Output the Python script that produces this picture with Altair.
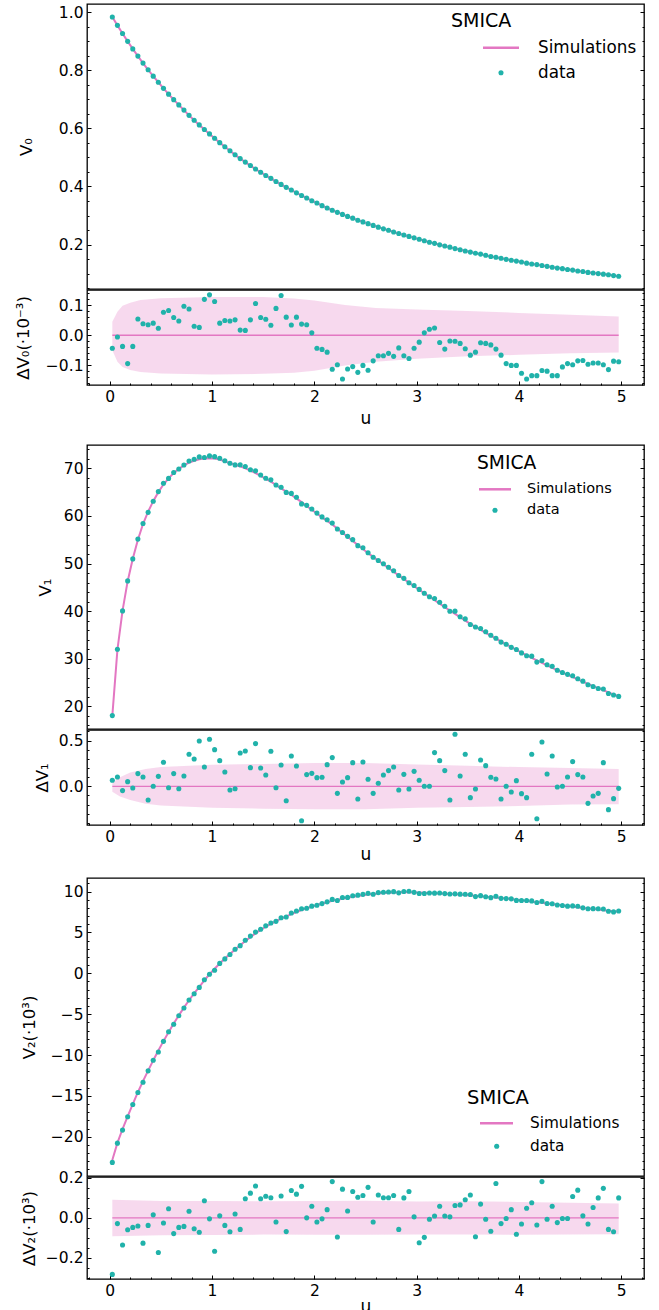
import altair as alt
import pandas as pd

FONT = "DejaVu Sans"
PINK = "#e377c2"
TEAL = "#20b2aa"

# ---------------- data ----------------
U = [round(0.025 + 0.05 * k, 3) for k in range(100)]

V0_SIM = [0.984, 0.955, 0.927, 0.900, 0.874, 0.849, 0.825, 0.802, 0.780, 0.759,
          0.738, 0.718, 0.699, 0.681, 0.663, 0.645, 0.628, 0.612, 0.596, 0.581,
          0.566, 0.551, 0.537, 0.523, 0.509, 0.496, 0.484, 0.472, 0.460, 0.449,
          0.438, 0.428, 0.417, 0.407, 0.397, 0.388, 0.378, 0.369, 0.360, 0.351,
          0.343, 0.334, 0.326, 0.318, 0.311, 0.304, 0.297, 0.291, 0.284, 0.278,
          0.272, 0.266, 0.260, 0.254, 0.249, 0.243, 0.238, 0.233, 0.228, 0.223,
          0.218, 0.213, 0.208, 0.204, 0.199, 0.195, 0.191, 0.186, 0.182, 0.178,
          0.174, 0.170, 0.167, 0.163, 0.159, 0.156, 0.153, 0.149, 0.146, 0.143,
          0.140, 0.136, 0.133, 0.131, 0.128, 0.125, 0.122, 0.119, 0.117, 0.114,
          0.112, 0.109, 0.107, 0.104, 0.102, 0.100, 0.098, 0.096, 0.093, 0.091]

V0_DELTA = [-0.043, -0.006, -0.037, -0.094, -0.037, 0.054, 0.038, 0.035, 0.040, 0.023,
            0.076, 0.082, 0.059, 0.047, 0.096, 0.087, 0.030, 0.026, 0.119, 0.134,
            0.112, 0.040, 0.049, 0.047, 0.051, 0.017, 0.016, 0.051, 0.105, 0.059,
            0.053, 0.033, 0.089, 0.132, 0.060, 0.034, 0.060, 0.037, 0.035, 0.008,
            -0.043, -0.047, -0.056, -0.113, -0.098, -0.145, -0.112, -0.104, -0.123, -0.100,
            -0.116, -0.085, -0.068, -0.068, -0.060, -0.070, -0.042, -0.068, -0.077, -0.043,
            -0.023, 0.008, 0.020, 0.024, -0.024, -0.046, -0.019, -0.020, -0.027, -0.045,
            -0.066, -0.056, -0.025, -0.027, -0.032, -0.046, -0.066, -0.094, -0.100, -0.100,
            -0.126, -0.145, -0.134, -0.134, -0.117, -0.119, -0.134, -0.134, -0.105, -0.094,
            -0.098, -0.085, -0.084, -0.096, -0.092, -0.092, -0.098, -0.114, -0.086, -0.088]

V1_SIM = [18.0, 31.9, 40.1, 46.3, 51.0, 55.0, 58.3, 60.9, 63.1, 65.0,
          66.6, 67.9, 69.0, 69.9, 70.6, 71.2, 71.6, 71.9, 72.05, 72.1,
          72.05, 71.85, 71.45, 71.1, 70.75, 70.4, 70.0, 69.5, 69.0, 68.4,
          67.8, 67.2, 66.5, 65.8, 65.1, 64.4, 63.7, 62.9, 62.1, 61.3,
          60.5, 59.7, 58.95, 58.2, 57.34, 56.48, 55.62, 54.76, 53.90, 53.04,
          52.18, 51.40, 50.62, 49.84, 49.06, 48.28, 47.52, 46.76, 46.0, 45.24,
          44.5, 43.76, 43.02, 42.3, 41.58, 40.86, 40.14, 39.43, 38.72, 38.02,
          37.33, 36.70, 36.08, 35.46, 34.85, 34.24, 33.64, 33.05, 32.46, 31.88,
          31.31, 30.75, 30.20, 29.66, 29.13, 28.61, 28.10, 27.60, 27.11, 26.63,
          26.16, 25.68, 25.20, 24.73, 24.27, 23.82, 23.38, 22.95, 22.53, 22.12]

V1_DELTA = [0.066, 0.102, -0.047, 0.051, -0.018, 0.139, 0.102, -0.150, 0.000, 0.109,
            0.263, -0.015, 0.139, -0.026, 0.113, 0.350, 0.299, 0.496, 0.212, 0.515,
            0.401, 0.281, 0.157, -0.040, -0.026, 0.365, 0.387, 0.204, 0.467, 0.201,
            0.124, 0.383, -0.015, 0.234, -0.157, 0.332, 0.223, -0.376, 0.128, 0.142,
            0.095, 0.099, 0.237, 0.314, -0.077, 0.047, 0.095, 0.259, -0.139, 0.266,
            0.077, -0.077, 0.033, 0.124, 0.172, 0.212, -0.040, 0.131, -0.029, 0.164,
            0.066, 0.000, 0.000, 0.369, 0.281, 0.172, -0.150, 0.569, 0.113, 0.350,
            -0.124, -0.029, 0.288, 0.226, 0.099, 0.080, -0.139, 0.000, -0.062, 0.062,
            -0.080, -0.124, 0.350, -0.354, 0.485, 0.135, 0.332, -0.007, 0.000, 0.102,
            0.270, 0.128, 0.102, -0.186, -0.106, -0.077, 0.259, -0.255, -0.135, -0.022]

V2_SIM = [-22.85, -20.75, -19.05, -17.5, -16.0, -14.55, -13.2, -11.9, -10.65, -9.45,
          -8.3, -7.2, -6.15, -5.15, -4.2, -3.3, -2.45, -1.65, -0.87, -0.12,
          0.55, 1.2, 1.8, 2.37, 2.92, 3.44, 3.95, 4.43, 4.88, 5.3,
          5.7, 6.06, 6.38, 6.68, 6.96, 7.24, 7.5, 7.74, 7.96, 8.16,
          8.35, 8.53, 8.7, 8.86, 9.0, 9.13, 9.25, 9.36, 9.46, 9.55,
          9.63, 9.7, 9.76, 9.81, 9.85, 9.88, 9.9, 9.91, 9.91, 9.9,
          9.88, 9.86, 9.83, 9.80, 9.77, 9.74, 9.70, 9.66, 9.62, 9.58,
          9.53, 9.48, 9.43, 9.38, 9.32, 9.26, 9.20, 9.14, 9.07, 9.00,
          8.93, 8.86, 8.78, 8.70, 8.62, 8.54, 8.46, 8.38, 8.30, 8.22,
          8.14, 8.07, 8.00, 7.93, 7.86, 7.79, 7.72, 7.65, 7.58, 7.52]

V2_DELTA = [-0.284, -0.029, -0.136, -0.060, -0.048, -0.041, -0.127, -0.038, 0.015, -0.174,
            -0.026, 0.046, -0.079, -0.048, -0.043, 0.033, -0.055, -0.072, 0.086, -0.005,
            -0.168, 0.010, -0.038, -0.070, 0.019, -0.058, 0.096, 0.124, 0.160, 0.096,
            0.108, 0.101, -0.021, 0.110, -0.069, 0.137, 0.119, 0.158, 0.000, 0.058,
            -0.021, -0.005, 0.041, 0.182, -0.096, 0.144, 0.034, 0.132, 0.103, 0.112,
            0.153, -0.021, 0.115, 0.101, 0.101, 0.112, -0.058, 0.100, 0.132, 0.005,
            -0.125, -0.098, -0.007, 0.009, 0.058, 0.009, 0.005, 0.062, 0.065, 0.091,
            0.115, -0.095, 0.069, -0.007, -0.067, 0.172, -0.029, -0.003, 0.041, -0.082,
            -0.031, 0.048, 0.076, -0.036, 0.182, -0.007, 0.058, -0.024, -0.003, -0.003,
            0.107, 0.139, 0.010, -0.031, 0.052, 0.100, 0.148, -0.058, -0.070, 0.100]

# simulation 1-sigma bands of the residual panels
BAND0_U = [0.025, 0.075, 0.125, 0.2, 0.3, 0.5, 1.0, 1.5, 1.8, 2.0, 2.3, 2.6, 3.0, 3.5, 4.0, 4.5, 4.975]
BAND0_HI = [0.045, 0.078, 0.098, 0.108, 0.117, 0.123, 0.127, 0.127, 0.122, 0.115, 0.100, 0.090, 0.085, 0.080, 0.074, 0.068, 0.062]
BAND0_LO = [-0.050, -0.088, -0.105, -0.115, -0.122, -0.127, -0.130, -0.128, -0.124, -0.118, -0.100, -0.088, -0.078, -0.070, -0.065, -0.060, -0.057]

BAND1_U = [0.025, 0.1, 0.2, 0.35, 0.5, 1.0, 1.5, 2.0, 2.5, 3.0, 3.5, 4.0, 4.5, 4.975]
BAND1_HI = [0.04, 0.10, 0.15, 0.19, 0.21, 0.235, 0.245, 0.255, 0.255, 0.24, 0.225, 0.21, 0.20, 0.19]
BAND1_LO = [-0.06, -0.11, -0.15, -0.19, -0.21, -0.235, -0.245, -0.25, -0.25, -0.235, -0.225, -0.215, -0.20, -0.195]

BAND2_U = [0.025, 0.5, 1.0, 1.5, 2.0, 2.5, 3.0, 3.5, 4.0, 4.5, 4.975]
BAND2_HI = [0.091, 0.085, 0.084, 0.083, 0.085, 0.086, 0.082, 0.083, 0.080, 0.076, 0.072]
BAND2_LO = [-0.093, -0.088, -0.086, -0.084, -0.085, -0.085, -0.083, -0.083, -0.085, -0.083, -0.082]

# ---------------- layout constants ----------------
W = 557
X_DOMAIN = [-0.2225, 5.2225]
X_MAJOR = [0, 1, 2, 3, 4, 5]
LEFT_EXTENT = 80   # common left extent of every panel (keeps plot areas aligned)


def frange(a, b, step):
    n = int(round((b - a) / step))
    return [round(a + i * step, 6) for i in range(n + 1)]


def minor_of(a, b, step, major):
    return [v for v in frange(a, b, step) if all(abs(v - m) > 1e-9 for m in major)]


X_MINOR = minor_of(-0.2, 5.2, 0.2, X_MAJOR)


def tick_axis(orient, values, size, labels=False, fmt=None, title=None,
              title_x=None, title_y=None, title_size=16.5):
    kw = dict(orient=orient, values=values, tickSize=size, offset=-size,
              domain=False, grid=False, ticks=True, tickColor="black",
              tickWidth=1.0, labels=labels)
    if labels:
        kw.update(labelFont=FONT, labelFontSize=15.5, labelColor="black",
                  labelPadding=4, format=fmt, labelFlush=False, labelOverlap=False)
    if title is not None:
        kw.update(title=title, titleFont=FONT, titleFontSize=title_size,
                  titleFontWeight="normal", titleColor="black",
                  titleX=title_x, titleY=title_y, titleAlign="center",
                  titleBaseline="middle",
                  titleAngle=270 if orient in ("left", "right") else 0)
    else:
        kw["title"] = None
    return alt.Axis(**kw)


def xenc(axis):
    return alt.X("u:Q", scale=alt.Scale(domain=X_DOMAIN, nice=False, zero=False), axis=axis)


ONE = pd.DataFrame({"n": [0]})


def extent_rule(y0, y1):
    # invisible helper that fixes the layout extent of a panel
    return alt.Chart(ONE).mark_rule(opacity=0, strokeOpacity=0).encode(
        x=alt.value(-LEFT_EXTENT), y=alt.value(y0), y2=alt.value(y1))


def legend_layers(pos, title_size, item_size):
    sx, sy, lx0, lx1, ly, tx, px, py = pos
    base = alt.Chart(ONE)
    return [
        base.mark_text(text="SMICA", align="left", baseline="middle", font=FONT,
                       fontSize=title_size, color="black").encode(x=alt.value(sx), y=alt.value(sy)),
        base.mark_rule(color=PINK, strokeWidth=2.5).encode(
            x=alt.value(lx0), x2=alt.value(lx1), y=alt.value(ly)),
        base.mark_text(text="Simulations", align="left", baseline="middle", font=FONT,
                       fontSize=item_size, color="black").encode(x=alt.value(tx), y=alt.value(ly)),
        base.mark_circle(size=26, color=TEAL, opacity=1).encode(x=alt.value(px), y=alt.value(py)),
        base.mark_text(text="data", align="left", baseline="middle", font=FONT,
                       fontSize=item_size, color="black").encode(x=alt.value(tx), y=alt.value(py)),
    ]


def main_panel(sim, data, ydom, H, major, minor, fmt, title, title_dx, legend):
    df = pd.DataFrame({"u": U, "sim": sim, "data": data})
    ysc = alt.Scale(domain=ydom, nice=False, zero=False)
    line = alt.Chart(df).mark_line(color=PINK, strokeWidth=2).encode(
        x=xenc(None),
        y=alt.Y("sim:Q", scale=ysc,
                axis=tick_axis("left", major, 4, True, fmt, title, -title_dx - 4, H / 2)))
    pts = alt.Chart(df).mark_circle(size=26, color=TEAL, opacity=1).encode(
        x=xenc(None), y=alt.Y("data:Q", scale=ysc, axis=tick_axis("left", minor, 2)))
    r1 = alt.Chart(df).mark_circle(size=1, opacity=0).encode(
        x=xenc(None), y=alt.Y("data:Q", scale=ysc, axis=tick_axis("right", major, 4)))
    r2 = alt.Chart(df).mark_circle(size=1, opacity=0).encode(
        x=xenc(None), y=alt.Y("data:Q", scale=ysc, axis=tick_axis("right", minor, 2)))
    layers = [line, pts, r1, r2, extent_rule(H * 0.4, H * 0.6)] + legend
    return alt.layer(*layers).resolve_axis(y="independent", x="independent").properties(
        width=W, height=H)


def resid_panel(delta, bu, bhi, blo, ydom, H, major, minor, title, title_dx, u_dy, gap):
    df = pd.DataFrame({"u": U, "d": delta})
    band = pd.DataFrame({"u": bu, "hi": bhi, "lo": blo, "zero": [0.0] * len(bu)})
    ysc = alt.Scale(domain=ydom, nice=False, zero=False)
    area = alt.Chart(band).mark_area(color=PINK, opacity=0.28).encode(
        x=xenc(tick_axis("bottom", X_MAJOR, 4, True, "d", "u", W / 2, u_dy + 4, 17)),
        y=alt.Y("lo:Q", scale=ysc,
                axis=tick_axis("left", major, 4, True, ".1f", title, -title_dx - 4, H / 2)),
        y2="hi:Q")
    zero = alt.Chart(band).mark_line(color=PINK, strokeWidth=1.3).encode(
        x=xenc(tick_axis("bottom", X_MINOR, 2)),
        y=alt.Y("zero:Q", scale=ysc, axis=tick_axis("left", minor, 2)))
    pts = alt.Chart(df).mark_circle(size=26, color=TEAL, opacity=1).encode(
        x=xenc(None), y=alt.Y("d:Q", scale=ysc, axis=tick_axis("right", major, 4)))
    r2 = alt.Chart(df).mark_circle(size=1, opacity=0).encode(
        x=xenc(None), y=alt.Y("d:Q", scale=ysc, axis=tick_axis("right", minor, 2)))
    return alt.layer(area, zero, pts, r2, extent_rule(H * 0.5, H + gap)).resolve_axis(
        y="independent", x="independent").properties(width=W, height=H)


def group(main, resid, spacing):
    return alt.vconcat(main, resid, spacing=spacing).resolve_scale(
        x="independent", y="independent")


# ---------- group 1: V0 ----------
D0 = [s + d * 1e-3 for s, d in zip(V0_SIM, V0_DELTA)]
g1 = group(
    main_panel(V0_SIM, D0, [0.0468, 1.0286], 285, [0.2, 0.4, 0.6, 0.8, 1.0],
               minor_of(0.05, 1.0, 0.05, [0.2, 0.4, 0.6, 0.8, 1.0]), ".1f", "V₀", 61,
               legend_layers((364, 17, 396, 432, 43.7, 451, 414, 68.7), 19, 16.8)),
    resid_panel(V0_DELTA, BAND0_U, BAND0_HI, BAND0_LO, [-0.165, 0.15], 95,
                [-0.1, 0.0, 0.1], minor_of(-0.16, 0.14, 0.02, [-0.1, 0.0, 0.1]),
                "ΔV₀(·10⁻³)", 64, 33, 58),
    spacing=-2)

# ---------- group 2: V1 ----------
D1 = [s + d for s, d in zip(V1_SIM, V1_DELTA)]
M1 = [20, 30, 40, 50, 60, 70]
g2 = group(
    main_panel(V1_SIM, D1, [15.25, 74.9], 284, M1, minor_of(16, 74, 2, M1), "d", "V₁", 42,
               legend_layers((390, 17.7, 392, 424, 44.3, 440, 408, 65.3), 18.7, 14.5)),
    resid_panel(V1_DELTA, BAND1_U, BAND1_HI, BAND1_LO, [-0.423, 0.616], 95,
                [0.0, 0.5], minor_of(-0.4, 0.6, 0.1, [0.0, 0.5]), "ΔV₁", 45, 29, 51),
    spacing=-2)

# ---------- group 3: V2 ----------
D2 = [s + d for s, d in zip(V2_SIM, V2_DELTA)]
M2 = [-20, -15, -10, -5, 0, 5, 10]
g3 = group(
    main_panel(V2_SIM, D2, [-24.8, 11.66], 298, M2, minor_of(-24, 11, 1, M2), "d", "V₂(·10³)", 58,
               legend_layers((380, 219.7, 393, 426, 245.3, 443, 409.7, 268.3), 19.5, 15.3)),
    resid_panel(V2_DELTA, BAND2_U, BAND2_HI, BAND2_LO, [-0.307, 0.205], 102,
                [-0.2, 0.0, 0.2], minor_of(-0.3, 0.2, 0.05, [-0.2, 0.0, 0.2]),
                "ΔV₂(·10³)", 58, 27, 10),
    spacing=-9)

inner = alt.vconcat(g2, g3, spacing=0).resolve_scale(x="independent", y="independent")
chart = alt.vconcat(g1, inner, spacing=0).resolve_scale(
    x="independent", y="independent").properties(
    padding={"left": 86 - LEFT_EXTENT, "top": 3, "right": 5, "bottom": 0}
).configure(
    font=FONT, background="white",
    view=alt.ViewConfig(stroke="black", strokeWidth=1.3),
)

chart.save("out.html", embed_options={"renderer": "svg", "actions": False})
